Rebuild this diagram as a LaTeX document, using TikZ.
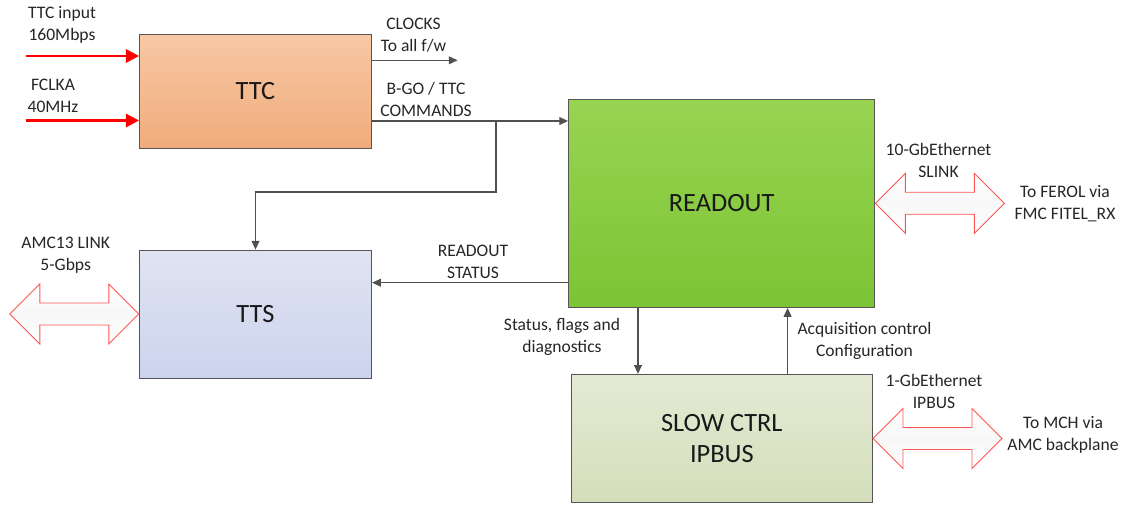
\documentclass[tikz,border=0pt]{standalone}
\usepackage{fontspec}
\setmainfont{Carlito}
\usepackage{xcolor}
\definecolor{ttctop}{RGB}{248,200,166}
\definecolor{ttcbot}{RGB}{240,172,122}
\definecolor{readtop}{RGB}{152,212,82}
\definecolor{readbot}{RGB}{124,196,52}
\definecolor{ttstop}{RGB}{224,228,241}
\definecolor{ttsbot}{RGB}{204,211,238}
\definecolor{slowtop}{RGB}{228,234,212}
\definecolor{slowbot}{RGB}{212,222,186}
\definecolor{boxgrey}{RGB}{85,85,85}
\definecolor{linegrey}{RGB}{80,80,80}
\definecolor{linkred}{RGB}{255,85,85}
\usetikzlibrary{positioning,calc,arrows.meta}

% two-headed link arrow: tip anchor, direction (1 right, -1 left)
\newcommand{\duplexarrow}[2]{%
	\draw[linkarrow] (#1) -- ++({30*(#2)},-30) -- ++(0,19) -- ++({69*(#2)},0) -- ++(0,-19) -- ++({30*(#2)},30) -- ++({-30*(#2)},30) -- ++(0,-19) -- ++({-69*(#2)},0) -- ++(0,19) -- cycle;}

\begin{document}
\begin{tikzpicture}[x=0.02cm, y=-0.02cm,
		blockbox/.style={draw=boxgrey, line width=0.5pt, inner sep=0pt, font=\fontsize{15}{18}\selectfont, text=black!90},
		lbl/.style={align=center, font=\fontsize{10}{12.5}\selectfont, text=black!85, inner sep=0pt},
		conn/.style={draw=linegrey, line width=0.6pt, -{Triangle[length=5pt,width=4.5pt]}},
		redin/.style={draw=red, line width=1.5pt, -{Triangle[length=7.5pt,width=7.5pt]}},
		linkarrow/.style={draw=linkred, line width=0.5pt, top color=white, bottom color=white, middle color=gray!6}]
					\useasboundingbox (0,0) rectangle (1123,504);
					% blocks
					\node[blockbox, minimum width=4.64cm, minimum height=2.28cm, top color=ttctop, bottom color=ttcbot] (ttc) at (255.5,91.3) {TTC};
					\node[blockbox, minimum width=4.65cm, minimum height=2.56cm, top color=ttstop, bottom color=ttsbot] (tts) at (255.5,314) {TTS};
					\node[blockbox, minimum width=6.13cm, minimum height=4.17cm, top color=readtop, bottom color=readbot] (readout) at (721.7,203.3) {READOUT};
					\node[blockbox, minimum width=6.03cm, minimum height=2.57cm, top color=slowtop, bottom color=slowbot, align=center] (slow) at (721.8,438.5) {SLOW CTRL\\IPBUS};
					% inputs
					\coordinate (ttcin) at (26,56);
					\coordinate (fclkin) at (26,120.5);
					\draw[redin] (ttcin) -- (ttcin -| ttc.west);
					\draw[redin] (fclkin) -- (fclkin -| ttc.west);
					\node[lbl] (ttcinlbl) at (62,25) {TTC input\\160Mbps};
					\node[lbl] (fclklbl) at (53,96) {FCLKA\\40MHz};
					% ttc outputs
					\coordinate (clkout) at (457.6,60.3);
					\draw[conn] (clkout -| ttc.east) -- (clkout);
					\node[lbl] (clklbl) at (413.5,35) {CLOCKS\\To all f/w};
					\coordinate (bgo) at (496,121);
					\coordinate (bgodown) at (496,192);
					\draw[conn] (bgo -| ttc.east) -- (bgo -| readout.west);
					\draw[conn] (bgo) -- (bgodown) -| (tts.north);
					\node[lbl] (bgolbl) at (426,99.5) {B-GO / TTC\\COMMANDS};
					% readout status
					\coordinate (rdstat) at (0,282.7);
					\draw[conn] (rdstat -| readout.west) -- (rdstat -| tts.east);
					\node[lbl] (rdstatlbl) at (473,262) {READOUT\\STATUS};
					% slow control
					\coordinate (sfd) at (638,0);
					\coordinate (acq) at (787.6,0);
					\draw[conn] (sfd |- readout.south) -- (sfd |- slow.north);
					\draw[conn] (acq |- slow.north) -- (acq |- readout.south);
					\node[lbl] (sfdlbl) at (562,337) {Status, flags and\\diagnostics};
					\node[lbl] (acqlbl) at (864.5,340.5) {Acquisition control\\Configuration};
					% links
					\duplexarrow{tts.west}{-1}
					\duplexarrow{readout.east}{1}
					\duplexarrow{slow.east}{1}
					\node[lbl] (amclbl) at (65.7,255.5) {AMC13 LINK\\5-Gbps};
					\node[lbl] (slinklbl) at (938.5,160) {10-GbEthernet\\SLINK};
					\node[lbl] (ferollbl) at (1065,204) {To FEROL via\\FMC FITEL\_RX};
					\node[lbl] (gbelbl) at (934,391.5) {1-GbEthernet\\IPBUS};
					\node[lbl] (mchlbl) at (1063,435) {To MCH via\\AMC backplane};
			\end{tikzpicture}
\end{document}
